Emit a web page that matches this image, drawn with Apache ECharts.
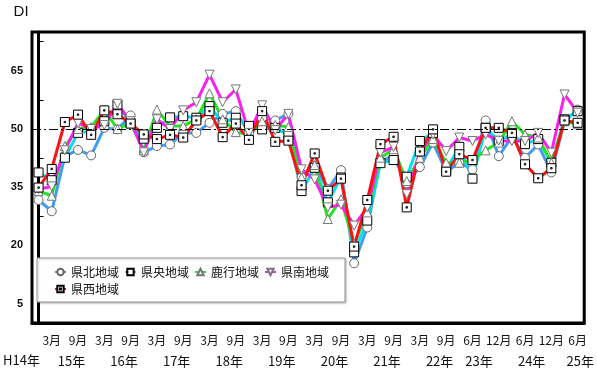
<!DOCTYPE html>
<html>
<head>
<meta charset="utf-8">
<script src="https://cdn.jsdelivr.net/npm/echarts@6/dist/echarts.min.js"></script>
<style>
  html, body { margin: 0; padding: 0; background: #fff; }
  #chart { width: 597px; height: 376px; }
</style>
</head>
<body>
<div id="chart"></div>
<script>
// 調査時期（H14年12月〜H25年6月、H23年3月は欠測）
var periods = ['12月',
  '3月','6月','9月','12月', '3月','6月','9月','12月', '3月','6月','9月','12月',
  '3月','6月','9月','12月', '3月','6月','9月','12月', '3月','6月','9月','12月',
  '3月','6月','9月','12月', '3月','6月','9月','12月',
  '6月','9月','12月', '3月','6月','9月','12月', '3月','6月'];

// 年ラベルと表示位置（カテゴリ番号）
var yearLabels = ['15年','16年','17年','18年','19年','20年','21年','22年','23年','24年','25年'];
var yearTicks  = [2.5, 6.5, 10.5, 14.5, 18.5, 22.5, 26.5, 30.5, 33.5, 37.5, 41.2];

var yLabelValues = [5, 20, 35, 50, 65];
var yTickValues = [12.5, 27.5, 42.5, 57.5, 72.5];

var kenhoku = [31.7,28.8,43,44.6,43.2,50.3,49.9,53.5,44,45.6,46,49,49,51.6,53.9,54.6,49,52.9,52.2,53.9,
  37.5,40.5,34.5,39.4,15.4,24.6,41.8,43,36,40.2,46.5,39,41.3,39.6,52.2,43,48,42.6,46,38.8,52,55];
var kenou = [38.8,36.8,42.6,49,49.5,52,56.3,51.5,47.5,50.3,53,53.3,52.9,55.9,51.6,52.9,50.8,49.9,50.3,48.5,
  34,40,31.1,37.5,18.2,26.4,41.2,42,37.7,46.9,49,39.5,45.4,37.2,50.3,46.9,48.6,46.1,47.4,41.3,52.5,54.6];
var rokko = [34,32.8,45.6,50,50.5,55,50,51.5,44.5,55,50.8,50.8,52.5,59.2,52.5,49.2,48.6,52,51,50.5,
  37.5,40.7,26.8,31.9,20.4,28.5,42.6,44.8,36.6,42.6,47.4,41.3,41.3,42,44.5,46.5,52,48.6,47.8,41.3,52,51.2];
var kennan = [34.5,35.2,44.5,51.5,50,51,56.5,52,44,52.5,50,54.8,56.9,64,56.9,60.2,49,56.1,49.7,53.9,
  39.6,37,29.8,30.5,25.1,29.8,43.9,45.4,33.2,43.9,48.6,44.3,47.8,46.9,48.6,47,46.9,46.9,49,43.9,58.9,54.2];
var kensei = [34.9,39.7,51.8,53.7,48.5,54.8,53.8,51.4,48.6,47.4,48.5,47.8,52.2,54.6,47.9,51.4,47.2,54.6,46.7,47,
  35.5,43.7,34.1,37.2,19.7,31.7,46.1,48,29.8,44.2,49.9,39,43.5,42,50.3,50.3,49,40.9,37.3,39.9,52.2,51.6];

var chart = echarts.init(document.getElementById('chart'));

var font = '"Noto Sans CJK JP", sans-serif';
var numFont = '"Liberation Sans", Arial, sans-serif';

function makeSeries(name, data, color, symbol, border, rotate) {
    return {
        name: name,
        type: 'line',
        data: data,
        symbol: symbol,
        symbolSize: 9,
        symbolRotate: rotate || 0,
        showAllSymbol: true,
        lineStyle: { color: color, width: 3 },
        itemStyle: { color: '#fff', borderColor: border, borderWidth: 1 },
        emphasis: { disabled: true }
    };
}

var series = [
    makeSeries('県北地域', kenhoku, '#3f9cf0', 'circle', '#666'),
    makeSeries('県央地域', kenou, '#00e0f8', 'rect', '#000'),
    makeSeries('鹿行地域', rokko, '#1fe61f', 'triangle', '#777'),
    makeSeries('県南地域', kennan, '#ff1ef0', 'triangle', '#777', 180),
    makeSeries('県西地域', kensei, '#ff1010', 'path://M0,0H10V10H0ZM4.2,4.2H5.8V5.8H4.2Z', '#000')
];
series[0].markLine = {
    silent: true,
    symbol: 'none',
    label: { show: false },
    lineStyle: { color: '#000', width: 1, type: [9, 3, 2, 3] },
    data: [{ yAxis: 50 }]
};

var option = {
    animation: false,
    textStyle: { fontFamily: font },
    grid: {
        left: 32, right: 12, top: 32, bottom: 53,
        show: true, borderColor: '#000', borderWidth: 3
    },
    legend: {
        left: 37, top: 258,
        data: ['県北地域', '県央地域', '鹿行地域', '県南地域', '', '県西地域'],
        itemWidth: 11, itemHeight: 8, itemGap: 5,
        padding: [8, 16, 7, 17],
        backgroundColor: '#fff',
        borderColor: '#999', borderWidth: 1,
        shadowColor: 'rgba(0,0,0,0.25)', shadowBlur: 2, shadowOffsetX: 1, shadowOffsetY: 1,
        textStyle: { fontSize: 12, color: '#111', fontFamily: font }
    },
    xAxis: [{
        type: 'category',
        data: periods,
        boundaryGap: true,
        axisLine: { lineStyle: { color: '#000', width: 3 } },
        axisTick: { inside: true, alignWithLabel: true, interval: 0, length: 5, lineStyle: { color: '#000', width: 1 } },
        axisLabel: {
            interval: function (idx) { return idx % 2 === 1; },
            margin: 11, fontSize: 12, color: '#111', fontFamily: font
        },
        splitLine: { show: false }
    }, {
        type: 'value',
        min: -0.5, max: 41.5,
        position: 'bottom',
        axisLine: { show: false },
        axisTick: { show: false },
        splitLine: { show: false },
        axisLabel: {
            customValues: yearTicks,
            formatter: function (v) {
                var i = yearTicks.indexOf(v);
                return i >= 0 ? yearLabels[i] : '';
            },
            margin: 32, fontSize: 13, color: '#111', fontFamily: font,
            showMinLabel: true, showMaxLabel: true
        }
    }],
    yAxis: {
        type: 'value',
        min: 0, max: 75,
        name: 'DI',
        nameLocation: 'end',
        nameGap: 13,
        nameTextStyle: { fontSize: 15, color: '#111', align: 'right', padding: [0, 10, 0, 0], fontFamily: numFont },
        axisLine: { show: true, lineStyle: { color: '#000', width: 3 } },
        axisTick: { show: true, inside: true, length: 5, customValues: yTickValues, lineStyle: { color: '#000', width: 1 } },
        axisLabel: {
            customValues: yLabelValues,
            margin: 9, fontSize: 11, fontWeight: 'bold', color: '#111',
            fontFamily: numFont
        },
        splitLine: { show: false }
    },
    graphic: [{
        type: 'text',
        left: 3, top: 354,
        style: { text: 'H14年', font: '13px "Noto Sans CJK JP", sans-serif', fill: '#111' }
    }],
    series: series
};

chart.setOption(option);
</script>
</body>
</html>
